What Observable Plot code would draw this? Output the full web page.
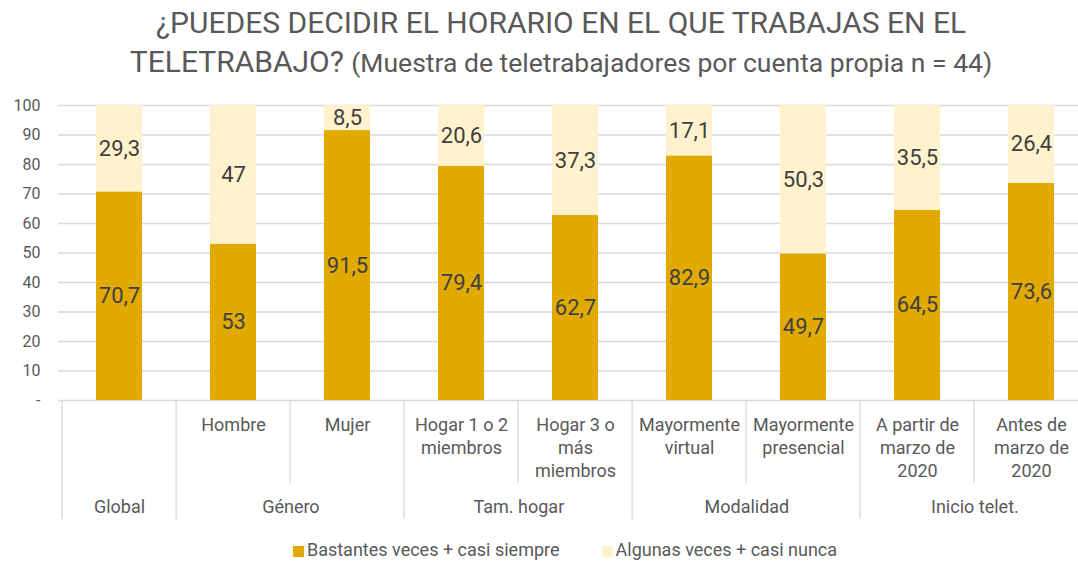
<!DOCTYPE html>
<html>
<head>
<meta charset="utf-8">
<script src="https://cdn.jsdelivr.net/npm/d3@7"></script>
<script src="https://cdn.jsdelivr.net/npm/@observablehq/plot@0.6"></script>
<style>
  html, body { margin: 0; padding: 0; background: #fff; overflow: hidden; }
  #wrap { position: relative; width: 1122px; height: 562px; font-family: Roboto, "Noto Sans", sans-serif; color: #595959; }
  .tl { position: absolute; left: 0; width: 1122px; text-align: center; white-space: nowrap; line-height: 1; }
  #t1 { top: 8px; font-size: 30px; }
  #t2 { top: 47px; font-size: 30px; }
  #t2 span { font-size: 26.5px; }
  #chart { position: absolute; left: 0; top: 0; }
  #legend { position: absolute; left: 4px; width: 1122px; top: 540px; display: flex; justify-content: center; gap: 42px; font-size: 18px; line-height: 20px; }
  .li { display: flex; align-items: center; gap: 3px; }
  .sw { width: 11px; height: 11px; display: inline-block; margin-top: 3px; }
</style>
</head>
<body>
<div id="wrap">
  <div id="t1" class="tl"></div>
  <div id="t2" class="tl"></div>
  <div id="chart"></div>
  <div id="legend"></div>
</div>
<script>
// ---- Data ----
const titleLine1 = "¿PUEDES DECIDIR EL HORARIO EN EL QUE TRABAJAS EN EL";
const titleLine2 = "TELETRABAJO?";
const titleNote = "(Muestra de teletrabajadores por cuenta propia n = 44)";

const categories = ["Global", "Hombre", "Mujer", "Hogar 1 o 2 miembros", "Hogar 3 o más miembros",
  "Mayormente virtual", "Mayormente presencial", "A partir de marzo de 2020", "Antes de marzo de 2020"];
const categoryLabels = ["", "Hombre", "Mujer", "Hogar 1 o 2\nmiembros", "Hogar 3 o\nmás\nmiembros",
  "Mayormente\nvirtual", "Mayormente\npresencial", "A partir de\nmarzo de\n2020", "Antes de\nmarzo de\n2020"];
const groups = ["Global", "Género", "Género", "Tam. hogar", "Tam. hogar", "Modalidad", "Modalidad", "Inicio telet.", "Inicio telet."];

const seriesNames = ["Bastantes veces + casi siempre", "Algunas veces + casi nunca"];
const bastantes = [70.7, 53, 91.5, 79.4, 62.7, 82.9, 49.7, 64.5, 73.6];
const algunas = [29.3, 47, 8.5, 20.6, 37.3, 17.1, 50.3, 35.5, 26.4];
const seriesColors = ["#E0AA00", "#FFF2CC"];

const yTicks = [0, 10, 20, 30, 40, 50, 60, 70, 80, 90, 100];

// ---- Layout ----
const W = 1122, H = 562;
const xLeft = 58, xRight = 1091;
const step = (xRight - xLeft) / categories.length;

// ---- Build table ----
const rows = [];
categories.forEach((c, i) => {
  rows.push({cat: c, serie: seriesNames[0], value: bastantes[i]});
  rows.push({cat: c, serie: seriesNames[1], value: algunas[i]});
});
const fmt = v => String(v).replace(".", ",");

const catRows = categories.map((c, i) => ({
  cat: c, label: categoryLabels[i], group: groups[i],
  groupStart: i === 0 || groups[i] !== groups[i - 1]
}));
const groupStarts = catRows.filter(d => d.groupStart);
const subStarts = catRows.filter(d => !d.groupStart);
const groupLabels1 = groupStarts.filter(d => groups.filter(g => g === d.group).length === 1);
const groupLabels2 = groupStarts.filter(d => groups.filter(g => g === d.group).length === 2);

document.getElementById("t1").textContent = titleLine1;
const t2 = document.getElementById("t2");
t2.append(titleLine2 + " ");
const sp = document.createElement("span"); sp.textContent = titleNote;
t2.append(sp);

const font = "Roboto, 'Noto Sans', sans-serif";
const sepStyle = {stroke: "#D9D9D9", strokeWidth: 1.3, insetTop: 296};

const chart = Plot.plot({
  width: W,
  height: H,
  marginLeft: xLeft,
  marginRight: W - xRight,
  marginTop: 105,
  marginBottom: 162,
  style: {fontFamily: font, maxWidth: "none", background: "transparent", overflow: "visible"},
  x: {domain: categories, paddingInner: 0.6, paddingOuter: 0.3, axis: null},
  y: {domain: [0, 100], axis: null},
  color: {domain: seriesNames, range: seriesColors},
  marks: [
    Plot.ruleY(yTicks, {stroke: "#D9D9D9", strokeWidth: 1.3}),
    Plot.axisY({ticks: yTicks, tickSize: 0, tickPadding: 18, fontSize: 16, color: "#595959",
      tickFormat: d => d === 0 ? "-" : String(d), label: null}),
    Plot.barY(rows, {x: "cat", y: "value", fill: "serie"}),
    Plot.text(rows, Plot.stackY({x: "cat", y: "value", text: d => fmt(d.value),
      fill: "#404040", fontSize: 22})),
    // category separators
    Plot.ruleX(groupStarts, {x: "cat", dx: -step / 2, ...sepStyle, insetBottom: -119}),
    Plot.ruleX([categories[categories.length - 1]], {x: d => d, dx: step / 2, ...sepStyle, insetBottom: -119}),
    Plot.ruleX(subStarts, {x: "cat", dx: -step / 2, ...sepStyle, insetBottom: -83}),
    // category labels
    Plot.text(catRows, {x: "cat", text: "label", frameAnchor: "bottom", lineAnchor: "top", dy: 14,
      lineHeight: 1.28, fontSize: 18, fill: "#595959"}),
    // group labels
    Plot.text(groupLabels1, {x: "cat", text: "group", frameAnchor: "bottom", lineAnchor: "top", dy: 99.5,
      fontSize: 18, fill: "#595959"}),
    Plot.text(groupLabels2, {x: "cat", text: "group", frameAnchor: "bottom", lineAnchor: "top", dy: 99.5, dx: step / 2,
      fontSize: 18, fill: "#595959"})
  ]
});
document.getElementById("chart").append(chart);

// legend
const leg = document.getElementById("legend");
seriesNames.forEach((s, i) => {
  const it = document.createElement("div"); it.className = "li";
  const sw = document.createElement("span"); sw.className = "sw"; sw.style.background = seriesColors[i];
  const tx = document.createElement("span"); tx.textContent = s;
  it.append(sw, tx); leg.append(it);
});
</script>
</body>
</html>
